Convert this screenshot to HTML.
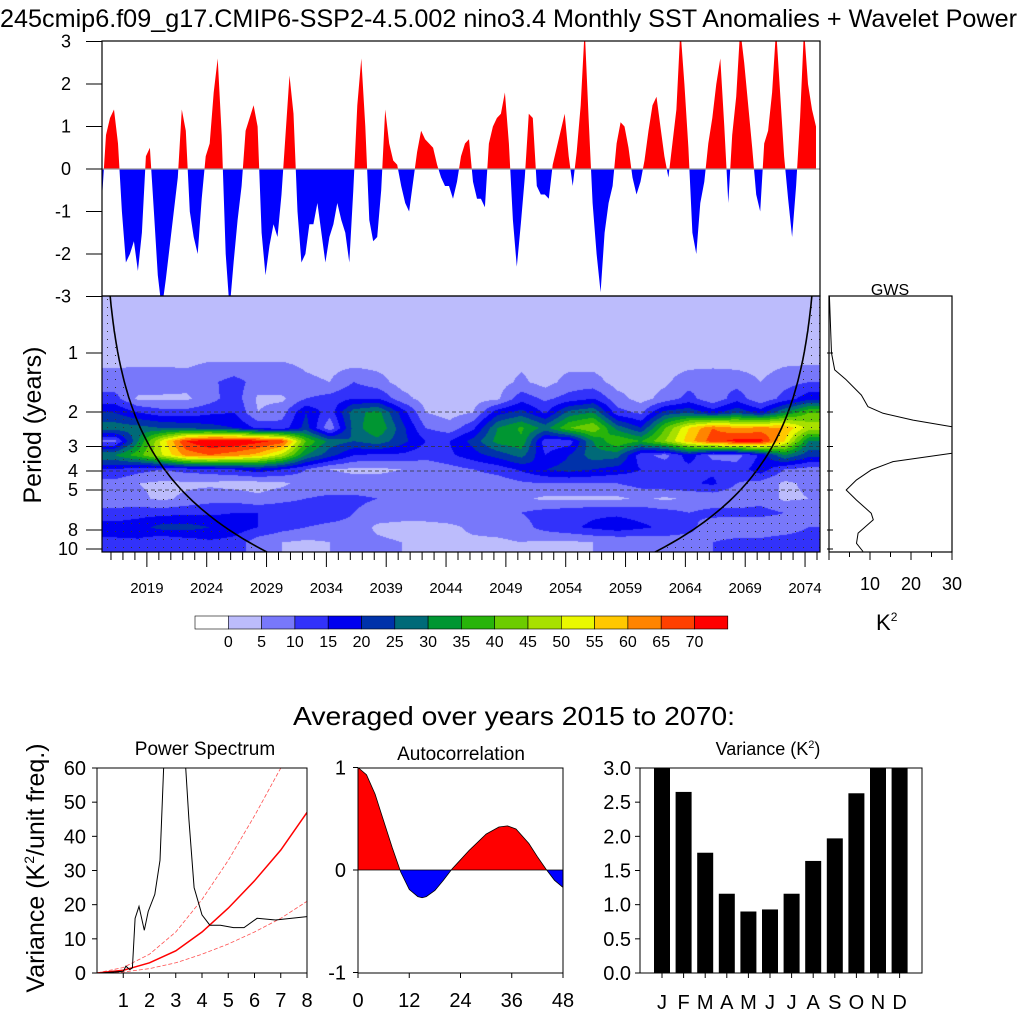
<!DOCTYPE html>
<html><head><meta charset="utf-8">
<style>
html,body{margin:0;padding:0;background:#fff;}
#wrap{position:relative;width:1024px;height:1024px;overflow:hidden;font-family:"Liberation Sans",Arial,sans-serif;}
#wave{position:absolute;left:102px;top:296px;}
svg{position:absolute;left:0;top:0;}
text{font-family:"Liberation Sans",Arial,sans-serif;fill:#000;}
</style></head>
<body>
<div id="wrap">
<canvas id="wave" width="718" height="256"></canvas>
<svg id="svg" width="1024" height="1024"></svg>
</div>
<script>
// ---------- DATA ----------
const sstStartMonth = 0;
const sstStepMonths = 4;
const sstValues = [
-0.7,0.8,1.2,1.4,0.6,-1.0,-2.2,-2.0,-1.7,-2.4,-1.5,0.3,0.5,-1.0,-2.5,-3.3,-2.6,-1.8,-1.0,-0.2,
1.4,0.9,-1.0,-1.6,-2.0,-0.7,0.3,0.6,1.8,2.6,0.8,-2.0,-3.3,-2.2,-1.2,-0.4,0.9,1.2,1.5,1.0,
-1.5,-2.5,-1.8,-1.3,-1.6,-0.6,0.8,2.2,1.3,-1.0,-2.2,-2.0,-1.3,-1.3,-0.8,-1.5,-2.2,-1.6,-1.3,-0.8,
-1.2,-1.5,-2.2,-0.5,1.5,2.6,1.0,-1.2,-1.7,-1.6,-0.5,1.4,0.6,0.2,0.1,-0.4,-0.8,-1.0,-0.3,0.4,
0.9,0.7,0.6,0.5,0.1,-0.2,-0.4,-0.4,-0.7,-0.3,0.3,0.6,0.7,-0.3,-0.7,-0.7,-0.9,0.6,1.0,1.2,
1.3,1.8,0.6,-1.2,-2.3,-1.3,-0.2,1.3,1.2,-0.4,-0.6,-0.6,-0.7,0.1,0.5,0.9,1.3,0.3,-0.4,0.4,
1.5,3.3,1.2,-0.8,-2.0,-2.9,-1.5,-0.8,-0.4,0.6,1.1,1.0,0.5,-0.2,-0.6,-0.3,0.2,0.9,1.5,1.7,
1.0,0.3,-0.2,0.6,1.4,3.3,2.0,0.5,-1.5,-2.0,-0.8,-0.3,0.6,1.2,2.0,2.6,1.0,-0.8,0.8,1.7,
3.3,2.5,1.5,0.5,-0.6,-1.0,0.6,0.9,1.8,3.3,1.8,0.3,-0.7,-1.6,-0.4,1.2,3.3,2.0,1.4,1.0];
const topTicks = [-3,-2,-1,0,1,2,3];

const yearTicks = [2019,2024,2029,2034,2039,2044,2049,2054,2059,2064,2069,2074];
const periodTicks = [1,2,3,4,5,8,10];
const dashedPeriods = [2,3,4,5];

const waveMonths = [12,36,60,84,108,132,156,180,204,228,252,276,300,324,348,372,396,420,444,468,492,516,540,564,588,612,636,660,684,708];
const wavePeriods = [0.55,0.8,1.1,1.4,1.7,2.0,2.4,2.8,3.3,3.9,4.6,5.5,6.5,7.7,9.2];
const waveRow0 = [2,2,2,2,2,2,2,2,2,2,2,2,2,2,2,2,2,2,2,2,2,2,2,2,2,2,2,2,2,2];
const waveRow1 = [3,3,3,3,3,3,3,3,3,3,3,3,3,3,3,3,3,3,3,3,3,3,3,3,3,3,3,3,3,3];
const waveRow2 = [4,4,4,4,5,5,5,5,4,3,3,3,3,3,3,3,3,4,3,3,3,3,3,3,3,3,3,3,4,4];
const waveRow3 = [7,8,8,7,9,12,8,9,6,5,10,7,3,2,2,2,3,6,3,7,7,3,3,4,8,9,8,5,8,10];
const waveRow4 = [12,4,4,4,8,13,4,4,10,12,15,15,7,3,3,3,4,13,9,12,15,7,3,7,12,6,13,6,12,18];
const waveRow5 = [20,15,12,12,14,15,5,8,20,12,28,32,18,5,3,5,18,22,14,27,30,12,9,22,24,18,24,18,30,40];
const waveRow6 = [28,27,25,24,22,20,14,12,22,6,27,35,22,10,7,14,30,36,28,40,45,28,20,40,55,65,60,62,60,48];
const waveRow7 = [8,30,52,70,75,75,72,68,40,28,25,28,22,15,15,22,32,34,12,12,30,40,35,45,58,68,72,72,55,30];
const waveRow8 = [30,38,50,62,65,62,58,48,30,22,15,14,14,12,14,18,22,27,15,20,28,27,12,8,18,8,8,16,30,22];
const waveRow9 = [15,12,10,12,13,15,18,15,10,5,4,4,5,6,8,10,12,16,20,22,20,18,15,14,13,14,12,18,10,8];
const waveRow10 = [8,5,4,4,4,3,3,4,7,7,7,7,7,7,8,7,7,9,10,10,10,10,12,14,14,16,10,8,4,6];
const waveRow11 = [6,6,4,6,8,8,6,8,10,11,11,10,8,7,7,8,9,6,4,4,4,4,6,4,6,6,6,8,4,5];
const waveRow12 = [12,13,13,14,14,15,15,15,15,14,10,8,8,8,8,8,8,10,12,13,14,14,13,12,10,12,12,12,10,10];
const waveRow13 = [17,18,22,22,20,18,15,12,10,8,8,4,3,3,4,6,7,8,12,14,16,18,16,14,12,6,5,5,6,10];
const waveRow14 = [14,14,10,12,14,13,7,5,4,5,6,6,5,4,4,4,4,5,4,4,5,5,6,7,7,10,12,12,14,14];
const waveGrid = [waveRow0,waveRow1,waveRow2,waveRow3,waveRow4,waveRow5,waveRow6,waveRow7,waveRow8,waveRow9,waveRow10,waveRow11,waveRow12,waveRow13,waveRow14];

const levelLabels = [0,5,10,15,20,25,30,35,40,45,50,55,60,65,70];
const levelColors = ["#ffffff","#bcbcfc","#7878fa","#3232fa","#0000f0","#0032aa","#006a78","#009632","#28b40a","#6ccc00","#a8e000","#eaf800","#ffc800","#ff8400","#ff4000","#ff0000"];

const gwsPeriods = [0.51,1.0,1.22,1.37,1.64,1.88,2.03,2.2,2.38,2.78,3.25,3.58,3.95,4.44,5.0,5.63,6.57,7.1,8.3,9.35,10.3];
const gwsValues  = [0.1,0.6,1.4,4.2,7.9,9.5,13.2,20.5,30,45,30,15.6,10.3,6.7,4.2,6.7,10.3,10.8,7.1,6.7,8.3];
const gwsTicks = [10,20,30];

const specFreq = [0.1,0.5,1.0,1.1,1.25,1.35,1.45,1.6,1.8,1.95,2.2,2.4,2.55,2.8,3.0,3.3,3.5,3.7,4.0,4.3,4.7,5.2,5.6,6.1,6.8,8.0];
const specPower = [0,0.2,0.5,2,1,1.5,16,19.5,12.5,18,23,33,62,85,90,70,45,25,17,14,14,13.3,13.3,16,15.5,16.5];
const redFreq = [0,1,2,3,4,5,6,7,8];
const redMean = [0,0.8,3,6.5,12,19,27,36,47];
const redUpper = [0,1.6,5.5,12,21.5,33,46,60,77];
const redLower = [0,0.3,1.3,3,5.5,8.5,12,16,21];
const specXTicks = [1,2,3,4,5,6,7,8];
const specYTicks = [0,10,20,30,40,50,60];

const acfLag = [0,2,4,6,8,10,12,14,15,16,18,20,22,24,26,28,30,33,35,37,40,42,44,46,48];
const acfValue = [1,0.93,0.74,0.48,0.22,-0.02,-0.19,-0.26,-0.27,-0.26,-0.2,-0.1,0.01,0.1,0.19,0.27,0.35,0.42,0.43,0.4,0.26,0.13,0.01,-0.1,-0.17];
const acfXTicks = [0,12,24,36,48];
const acfYTicks = [-1,0,1];

const months = ["J","F","M","A","M","J","J","A","S","O","N","D"];
const monthVariance = [3.4,2.65,1.76,1.16,0.9,0.93,1.16,1.64,1.97,2.63,3.4,3.4];
const varTicks = ["0.0","0.5","1.0","1.5","2.0","2.5","3.0"];

// ---------- HELPERS ----------
const NS="http://www.w3.org/2000/svg";
const svg=document.getElementById('svg');
function mk(tag,attrs,parent){const e=document.createElementNS(NS,tag);for(const k in attrs)e.setAttribute(k,attrs[k]);(parent||svg).appendChild(e);return e;}
function txt(x,y,s,size,anchor,parent){const t=mk('text',{x:x,y:y,'font-size':size,'text-anchor':anchor||'middle'},parent);t.textContent=s;return t;}
function line(x1,y1,x2,y2,stroke,w,parent){return mk('line',{x1:x1,y1:y1,x2:x2,y2:y2,stroke:stroke||'#000','stroke-width':w||1},parent);}

// ---------- TITLE ----------
let t=txt(0,27,"245cmip6.f09_g17.CMIP6-SSP2-4.5.002 nino3.4 Monthly SST Anomalies + Wavelet Power",25,'start');
t.setAttribute('textLength','1017');t.setAttribute('lengthAdjust','spacingAndGlyphs');


// ---------- TOP PANEL ----------
const TX0=102,TX1=820,TY0=41,TY1=296;
const mx=m=>TX0+m*(718/720);
const ty=v=>169-v*42.5;
const gTop=mk('g',{});

const defs=mk('defs',{});
const cpA=mk('clipPath',{id:'above'},defs);mk('rect',{x:TX0,y:TY0,width:TX1-TX0,height:169-TY0},cpA);
const cpB=mk('clipPath',{id:'below'},defs);mk('rect',{x:TX0,y:169,width:TX1-TX0,height:TY1-169},cpB);
let pd='M'+mx(sstStartMonth)+','+ty(0);
sstValues.forEach((v,i)=>{pd+=' L'+mx(sstStartMonth+i*sstStepMonths).toFixed(1)+','+ty(v).toFixed(1);});
pd+=' L'+mx(sstStartMonth+(sstValues.length-1)*sstStepMonths).toFixed(1)+','+ty(0)+' Z';
const redA=mk('path',{d:pd,fill:'#ff0000','clip-path':'url(#above)'},gTop);

const bluA=mk('path',{d:pd,fill:'#0000ff','clip-path':'url(#below)'},gTop);

line(TX0,169,TX1,169,'#999',1.2,gTop);
mk('rect',{x:TX0,y:TY0,width:TX1-TX0,height:TY1-TY0,fill:'none',stroke:'#000','stroke-width':1.2},gTop);
topTicks.forEach(v=>{line(86,ty(v),TX0,ty(v),'#000',1,gTop);const l=txt(71,ty(v)+6,String(v),18,'end',gTop);
 });

// ---------- WAVELET ----------
const WX0=102,WX1=820,WY0=296,WY1=552;
const py=p=>353+59*Math.log2(p);
const cv=document.getElementById('wave');const ctx=cv.getContext('2d');
const img=ctx.createImageData(718,256);
const lg=wavePeriods.map(p=>Math.log2(p));
function hex(c){return [parseInt(c.substr(1,2),16),parseInt(c.substr(3,2),16),parseInt(c.substr(5,2),16)];}
const rgb=levelColors.map(hex);
for(let yy=0;yy<256;yy++){
  const L=(yy+WY0-353)/59;
  let r=0;while(r<lg.length-2&&L>lg[r+1])r++;
  let fr=(L-lg[r])/(lg[r+1]-lg[r]);fr=Math.max(0,Math.min(1,fr));
  for(let xx=0;xx<718;xx++){
    const m=xx/(718/720);
    let c=(m-waveMonths[0])/24;c=Math.max(0,Math.min(waveMonths.length-1.0001,c));
    const c0=Math.floor(c),fc=c-c0;
    const v=(waveGrid[r][c0]*(1-fc)+waveGrid[r][c0+1]*fc)*(1-fr)+(waveGrid[r+1][c0]*(1-fc)+waveGrid[r+1][c0+1]*fc)*fr;
    let idx=v<0?0:Math.min(15,Math.floor(v/5)+1);
    const col=rgb[idx];const o=(yy*718+xx)*4;
    img.data[o]=col[0];img.data[o+1]=col[1];img.data[o+2]=col[2];img.data[o+3]=255;
  }
}
ctx.putImageData(img,0,0);
const gW=mk('g',{});

const coi=mk('clipPath',{id:'wclip'},defs);mk('rect',{x:WX0,y:WY0,width:WX1-WX0,height:WY1-WY0},coi);
let cl='',cr='';
for(let p=0.45;p<=12;p*=1.05){const d=p*1.33*12*(718/720);cl+=(cl?' L':'M')+(WX0+d).toFixed(1)+','+py(p).toFixed(1);cr+=(cr?' L':'M')+(WX1-d).toFixed(1)+','+py(p).toFixed(1);}
const pat=mk('pattern',{id:'dots',width:8,height:8,patternUnits:'userSpaceOnUse'},defs);
mk('rect',{x:3,y:3,width:1,height:1,fill:'#333'},pat);
mk('path',{d:cl+' L'+WX0+','+(WY1+40)+' L'+WX0+','+WY0+' Z',fill:'url(#dots)','clip-path':'url(#wclip)'},gW);
mk('path',{d:cr+' L'+WX1+','+(WY1+40)+' L'+WX1+','+WY0+' Z',fill:'url(#dots)','clip-path':'url(#wclip)'},gW);
const coiL=mk('path',{d:cl,fill:'none',stroke:'#000','stroke-width':1.6,'clip-path':'url(#wclip)'},gW);

const coiR=mk('path',{d:cr,fill:'none',stroke:'#000','stroke-width':1.6,'clip-path':'url(#wclip)'},gW);

dashedPeriods.forEach(p=>mk('line',{x1:WX0,y1:py(p),x2:WX1,y2:py(p),stroke:'#333','stroke-width':0.7,'stroke-dasharray':'4,3'},gW));
mk('rect',{x:WX0,y:WY0,width:WX1-WX0,height:WY1-WY0,fill:'none',stroke:'#000','stroke-width':1.2},gW);
periodTicks.forEach(p=>{line(86,py(p),WX0,py(p),'#000',1,gW);const l=txt(78,py(p)+6,String(p),18,'end',gW);
 });
for(let yr=2016;yr<=2075;yr++){const x=mx((yr-2015.25)*12);if(x<WX0||x>WX1)continue;
 if(yearTicks.includes(yr)){line(x,WY1,x,WY1+15,'#000',1,gW);}else{line(x,WY1,x,WY1+8,'#000',1,gW);}}
yearTicks.forEach(yr=>{const l=txt(mx((yr-2015.25)*12),593,String(yr),15,'middle',gW);
 });
const pl=txt(0,0,"Period (years)",25,'middle',gW);pl.setAttribute('transform','translate(41,425) rotate(-90)');


// ---------- GWS ----------
const GX0=829,GX1=952;
const gx=v=>GX0+v*4.1;
const gG=mk('g',{});
const gc=mk('clipPath',{id:'gclip'},defs);mk('rect',{x:GX0,y:WY0,width:GX1-GX0,height:WY1-WY0},gc);
let gd='';gwsPeriods.forEach((p,i)=>{gd+=(i?' L':'M')+gx(gwsValues[i]).toFixed(1)+','+py(p).toFixed(1);});
const gl=mk('path',{d:gd,fill:'none',stroke:'#000','stroke-width':1,'clip-path':'url(#gclip)','stroke-linejoin':'round'},gG);

mk('rect',{x:GX0,y:WY0,width:GX1-GX0,height:WY1-WY0,fill:'none',stroke:'#000','stroke-width':1.2},gG);
periodTicks.forEach(p=>line(GX0-2,py(p),GX0+4,py(p),'#000',1,gG));
for(let v=0;v<=30;v+=5)line(gx(v),WY1,gx(v),WY1+(v%10===0?8:5),'#000',1,gG);
gwsTicks.forEach(v=>{const l=txt(gx(v),590,String(v),18,'middle',gG);});
let gt=txt(890,295,"GWS",16,'middle',gG);
let k2=mk('text',{x:876,y:630,'font-size':22,'text-anchor':'start'},gG);k2.innerHTML='K<tspan dy="-9" font-size="12">2</tspan>';


// ---------- COLORBAR ----------
const gC=mk('g',{});
const CBX=195,CBW=33.3;
levelColors.forEach((c,i)=>{const r=mk('rect',{x:CBX+i*CBW,y:616,width:CBW,height:13,fill:c,stroke:'#000','stroke-width':0.6},gC);
 });
levelLabels.forEach((v,i)=>{const l=txt(CBX+(i+1)*CBW,647,String(v),16,'middle',gC);});

// ---------- BOTTOM TITLE ----------
let bt=txt(293,725,"Averaged over years 2015 to 2070:",26,'start');
bt.setAttribute('textLength','442');bt.setAttribute('lengthAdjust','spacingAndGlyphs');


// ---------- POWER SPECTRUM ----------
const PX0=97,PX1=307,PY0=768,PY1=973;
const sx=f=>PX0+f*(PX1-PX0)/8, sy=v=>PY1-v*(PY1-PY0)/60;
const gP=mk('g',{});
const pc=mk('clipPath',{id:'pclip'},defs);mk('rect',{x:PX0,y:PY0,width:PX1-PX0,height:PY1-PY0},pc);
function poly(xs,ys,fx,fy){return xs.map((x,i)=>(i?'L':'M')+fx(x).toFixed(1)+','+fy(ys[i]).toFixed(1)).join(' ');}
let e;
e=mk('path',{d:poly(redFreq,redUpper,sx,sy),fill:'none',stroke:'#ff5050','stroke-width':0.8,'stroke-dasharray':'4,2','clip-path':'url(#pclip)'},gP);
e=mk('path',{d:poly(redFreq,redLower,sx,sy),fill:'none',stroke:'#ff5050','stroke-width':0.8,'stroke-dasharray':'4,2','clip-path':'url(#pclip)'},gP);
e=mk('path',{d:poly(redFreq,redMean,sx,sy),fill:'none',stroke:'#ff0000','stroke-width':1.5,'clip-path':'url(#pclip)'},gP);
e=mk('path',{d:poly(specFreq,specPower,sx,sy),fill:'none',stroke:'#000','stroke-width':1,'clip-path':'url(#pclip)'},gP);
mk('rect',{x:PX0,y:PY0,width:PX1-PX0,height:PY1-PY0,fill:'none',stroke:'#000','stroke-width':1},gP);
specYTicks.forEach(v=>{line(PX0-5,sy(v),PX0,sy(v),'#000',1,gP);const l=txt(PX0-11,sy(v)+7,String(v),20,'end',gP);});
specXTicks.forEach(v=>{line(sx(v),PY1,sx(v),PY1+5,'#000',1,gP);const l=txt(sx(v),1007,String(v),20,'middle',gP);});
e=txt(205,755,"Power Spectrum",19,'middle',gP);
let vl=mk('text',{'font-size':25,'text-anchor':'middle',transform:'translate(44,868) rotate(-90)'},gP);
vl.innerHTML='Variance (K<tspan dy="-10" font-size="14">2</tspan><tspan dy="10">/unit freq.)</tspan>';


// ---------- AUTOCORRELATION ----------
const AX0=358,AX1=563;
const ax=l=>AX0+l*(AX1-AX0)/48, ay=v=>870-v*(PY1-PY0)/2;
const gA=mk('g',{});
const ac1=mk('clipPath',{id:'aA'},defs);mk('rect',{x:AX0,y:PY0,width:AX1-AX0,height:870-PY0},ac1);
const ac2=mk('clipPath',{id:'aB'},defs);mk('rect',{x:AX0,y:870,width:AX1-AX0,height:PY1-870},ac2);
let ad=poly(acfLag,acfValue,ax,ay)+' L'+ax(acfLag[acfLag.length-1])+','+ay(0)+' L'+ax(0)+','+ay(0)+' Z';
e=mk('path',{d:ad,fill:'#ff0000','clip-path':'url(#aA)'},gA);
e=mk('path',{d:ad,fill:'#0000ff','clip-path':'url(#aB)'},gA);
mk('path',{d:poly(acfLag,acfValue,ax,ay),fill:'none',stroke:'#000','stroke-width':0.8},gA);
line(AX0,870,AX1,870,'#000',0.8,gA);
mk('rect',{x:AX0,y:PY0,width:AX1-AX0,height:PY1-PY0,fill:'none',stroke:'#000','stroke-width':1},gA);
acfYTicks.forEach(v=>{line(AX0-5,ay(v),AX0,ay(v),'#000',1,gA);const l=txt(AX0-12,ay(v)+7,String(v),20,'end',gA);});
acfXTicks.forEach(v=>{line(ax(v),PY1,ax(v),PY1+5,'#000',1,gA);const l=txt(ax(v),1007,String(v),20,'middle',gA);});
e=txt(461,760,"Autocorrelation",19,'middle',gA);

// ---------- MONTHLY VARIANCE ----------
const VX0=640,VX1=922;
const bx=i=>662+i*21.6, by=v=>PY1-v*(PY1-PY0)/3;
const gV=mk('g',{});
const vc=mk('clipPath',{id:'vclip'},defs);mk('rect',{x:VX0,y:PY0,width:VX1-VX0,height:PY1-PY0},vc);
monthVariance.forEach((v,i)=>{const b=mk('rect',{x:bx(i)-8,y:by(v),width:16,height:PY1-by(v),fill:'#000','clip-path':'url(#vclip)'},gV);
 });
mk('rect',{x:VX0,y:PY0,width:VX1-VX0,height:PY1-PY0,fill:'none',stroke:'#000','stroke-width':1},gV);
varTicks.forEach(s=>{const v=parseFloat(s);line(VX0-5,by(v),VX0,by(v),'#000',1,gV);const l=txt(VX0-9,by(v)+7,s,20,'end',gV);});
months.forEach((m,i)=>{line(bx(i),PY1,bx(i),PY1+5,'#000',1,gV);const l=txt(bx(i),1009,m,20,'middle',gV);});
let vt=mk('text',{x:768,y:755,'font-size':18,'text-anchor':'middle'},gV);vt.innerHTML='Variance (K<tspan dy="-7" font-size="11">2</tspan><tspan dy="7">)</tspan>';

</script>
</body></html>
